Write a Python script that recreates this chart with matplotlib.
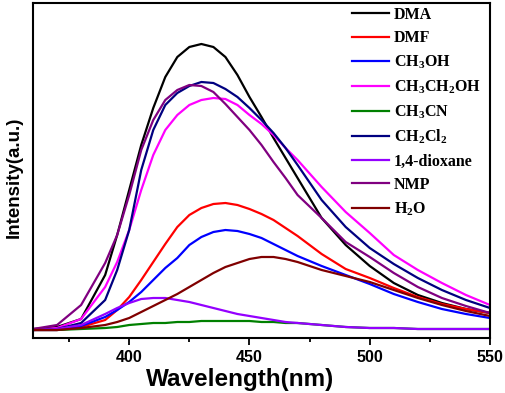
import numpy as np
import matplotlib
matplotlib.use('Agg')
import matplotlib.pyplot as plt

plt.rcParams['mathtext.fontset'] = 'custom'
plt.rcParams['mathtext.rm'] = 'Liberation Serif:bold'
plt.rcParams['mathtext.bf'] = 'Liberation Serif:bold'
plt.rcParams['mathtext.default'] = 'bf'

# emission spectra (arbitrary units)
wl = [360, 370, 380, 390, 395, 400, 405, 410, 415, 420, 425, 430, 435, 440,
      445, 450, 455, 460, 465, 470, 480, 490, 500, 510, 520, 530, 540, 550]

dma      = [1, 3, 11, 55, 95, 140, 185, 222, 253, 273, 283, 286, 283, 273,
            255, 233, 213, 192, 172, 152, 112, 85, 64, 47, 35, 27, 21, 17]
dmf      = [0, 0, 3, 10, 20, 33, 50, 68, 86, 103, 115, 122, 126, 127,
            125, 121, 116, 110, 102, 94, 76, 61, 52, 42, 33, 26, 21, 17]
ch3oh    = [0, 0, 4, 13, 20, 28, 38, 50, 62, 72, 85, 93, 98, 100,
            99, 96, 92, 86, 80, 74, 64, 55, 46, 36, 28, 21, 16, 12]
ethanol  = [0, 2, 11, 43, 68, 100, 140, 175, 200, 215, 225, 230, 232, 231,
            225, 215, 206, 195, 182, 170, 143, 118, 97, 75, 60, 47, 35, 25]
ch3cn    = [0, 0, 1, 2, 3, 5, 6, 7, 7, 8, 8, 9, 9, 9,
            9, 9, 8, 8, 7, 7, 5, 3, 2, 2, 1, 1, 1, 1]
ch2cl2   = [0, 1, 7, 30, 60, 100, 160, 200, 225, 237, 244, 248, 247, 241,
            233, 222, 210, 197, 182, 165, 130, 103, 82, 66, 52, 40, 30, 22]
dioxane  = [0, 1, 5, 16, 22, 27, 31, 32, 32, 30, 28, 25, 22, 19,
            16, 14, 12, 10, 8, 7, 5, 3, 2, 2, 1, 1, 1, 1]
nmp      = [1, 5, 25, 67, 95, 135, 180, 210, 230, 240, 245, 244, 238, 226,
            213, 200, 185, 168, 152, 135, 112, 88, 73, 57, 43, 32, 24, 17]
h2o      = [0, 0, 2, 5, 8, 12, 18, 24, 30, 36, 43, 50, 57, 63,
            67, 71, 73, 73, 71, 68, 60, 54, 48, 40, 32, 25, 19, 14]

labels = ['DMA', 'DMF', r'CH$_3$OH', r'CH$_3$CH$_2$OH', r'CH$_3$CN',
          r'CH$_2$Cl$_2$', '1,4-dioxane', 'NMP', r'H$_2$O']
series = [dma, dmf, ch3oh, ethanol, ch3cn, ch2cl2, dioxane, nmp, h2o]
colors = ['#000000', '#FF0000', '#0000FF', '#FF00FF', '#008000',
          '#000080', '#9400FF', '#800080', '#800000']

fig = plt.figure(figsize=(5.05, 3.93), dpi=100)
ax = fig.add_axes([33/505., 1-338/393., (490-33)/505., 335/393.])

for y, lab, c in zip(series, labels, colors):
    ax.plot(wl, y, color=c, lw=1.6, label=lab)

ax.set_xlim(360, 550)
ax.set_ylim(-8, 327)
ax.set_xticks([400, 450, 500, 550])
ax.set_xticks([375, 425, 475, 525], minor=True)
ax.set_yticks([])
ax.tick_params(axis='x', which='major', direction='out', length=5, width=1.3,
               labelsize=11.5, pad=4)
ax.tick_params(axis='x', which='minor', direction='out', length=3, width=1.3)
for lbl in ax.get_xticklabels():
    lbl.set_fontfamily('Liberation Sans')
    lbl.set_fontweight('bold')
for s in ax.spines.values():
    s.set_linewidth(1.5)

ax.set_xlabel('Wavelength(nm)', fontfamily='Liberation Sans', fontweight='bold',
              fontsize=17.5)
ax.xaxis.set_label_coords(0.453, -0.09)
ax.set_ylabel('Intensity(a.u.)', fontfamily='Liberation Sans', fontweight='bold',
              fontsize=13.5)
ax.yaxis.set_label_coords(-0.022, 0.48)

leg = ax.legend(loc='upper left', bbox_to_anchor=(352/505., 1-7/393.),
                bbox_transform=fig.transFigure, frameon=False, borderpad=0,
                borderaxespad=0, handlelength=2.3, handletextpad=0.3,
                labelspacing=0.46,
                prop={'family': 'Liberation Serif', 'weight': 'bold', 'size': 11.5})

fig.savefig('out.png', dpi=100)
